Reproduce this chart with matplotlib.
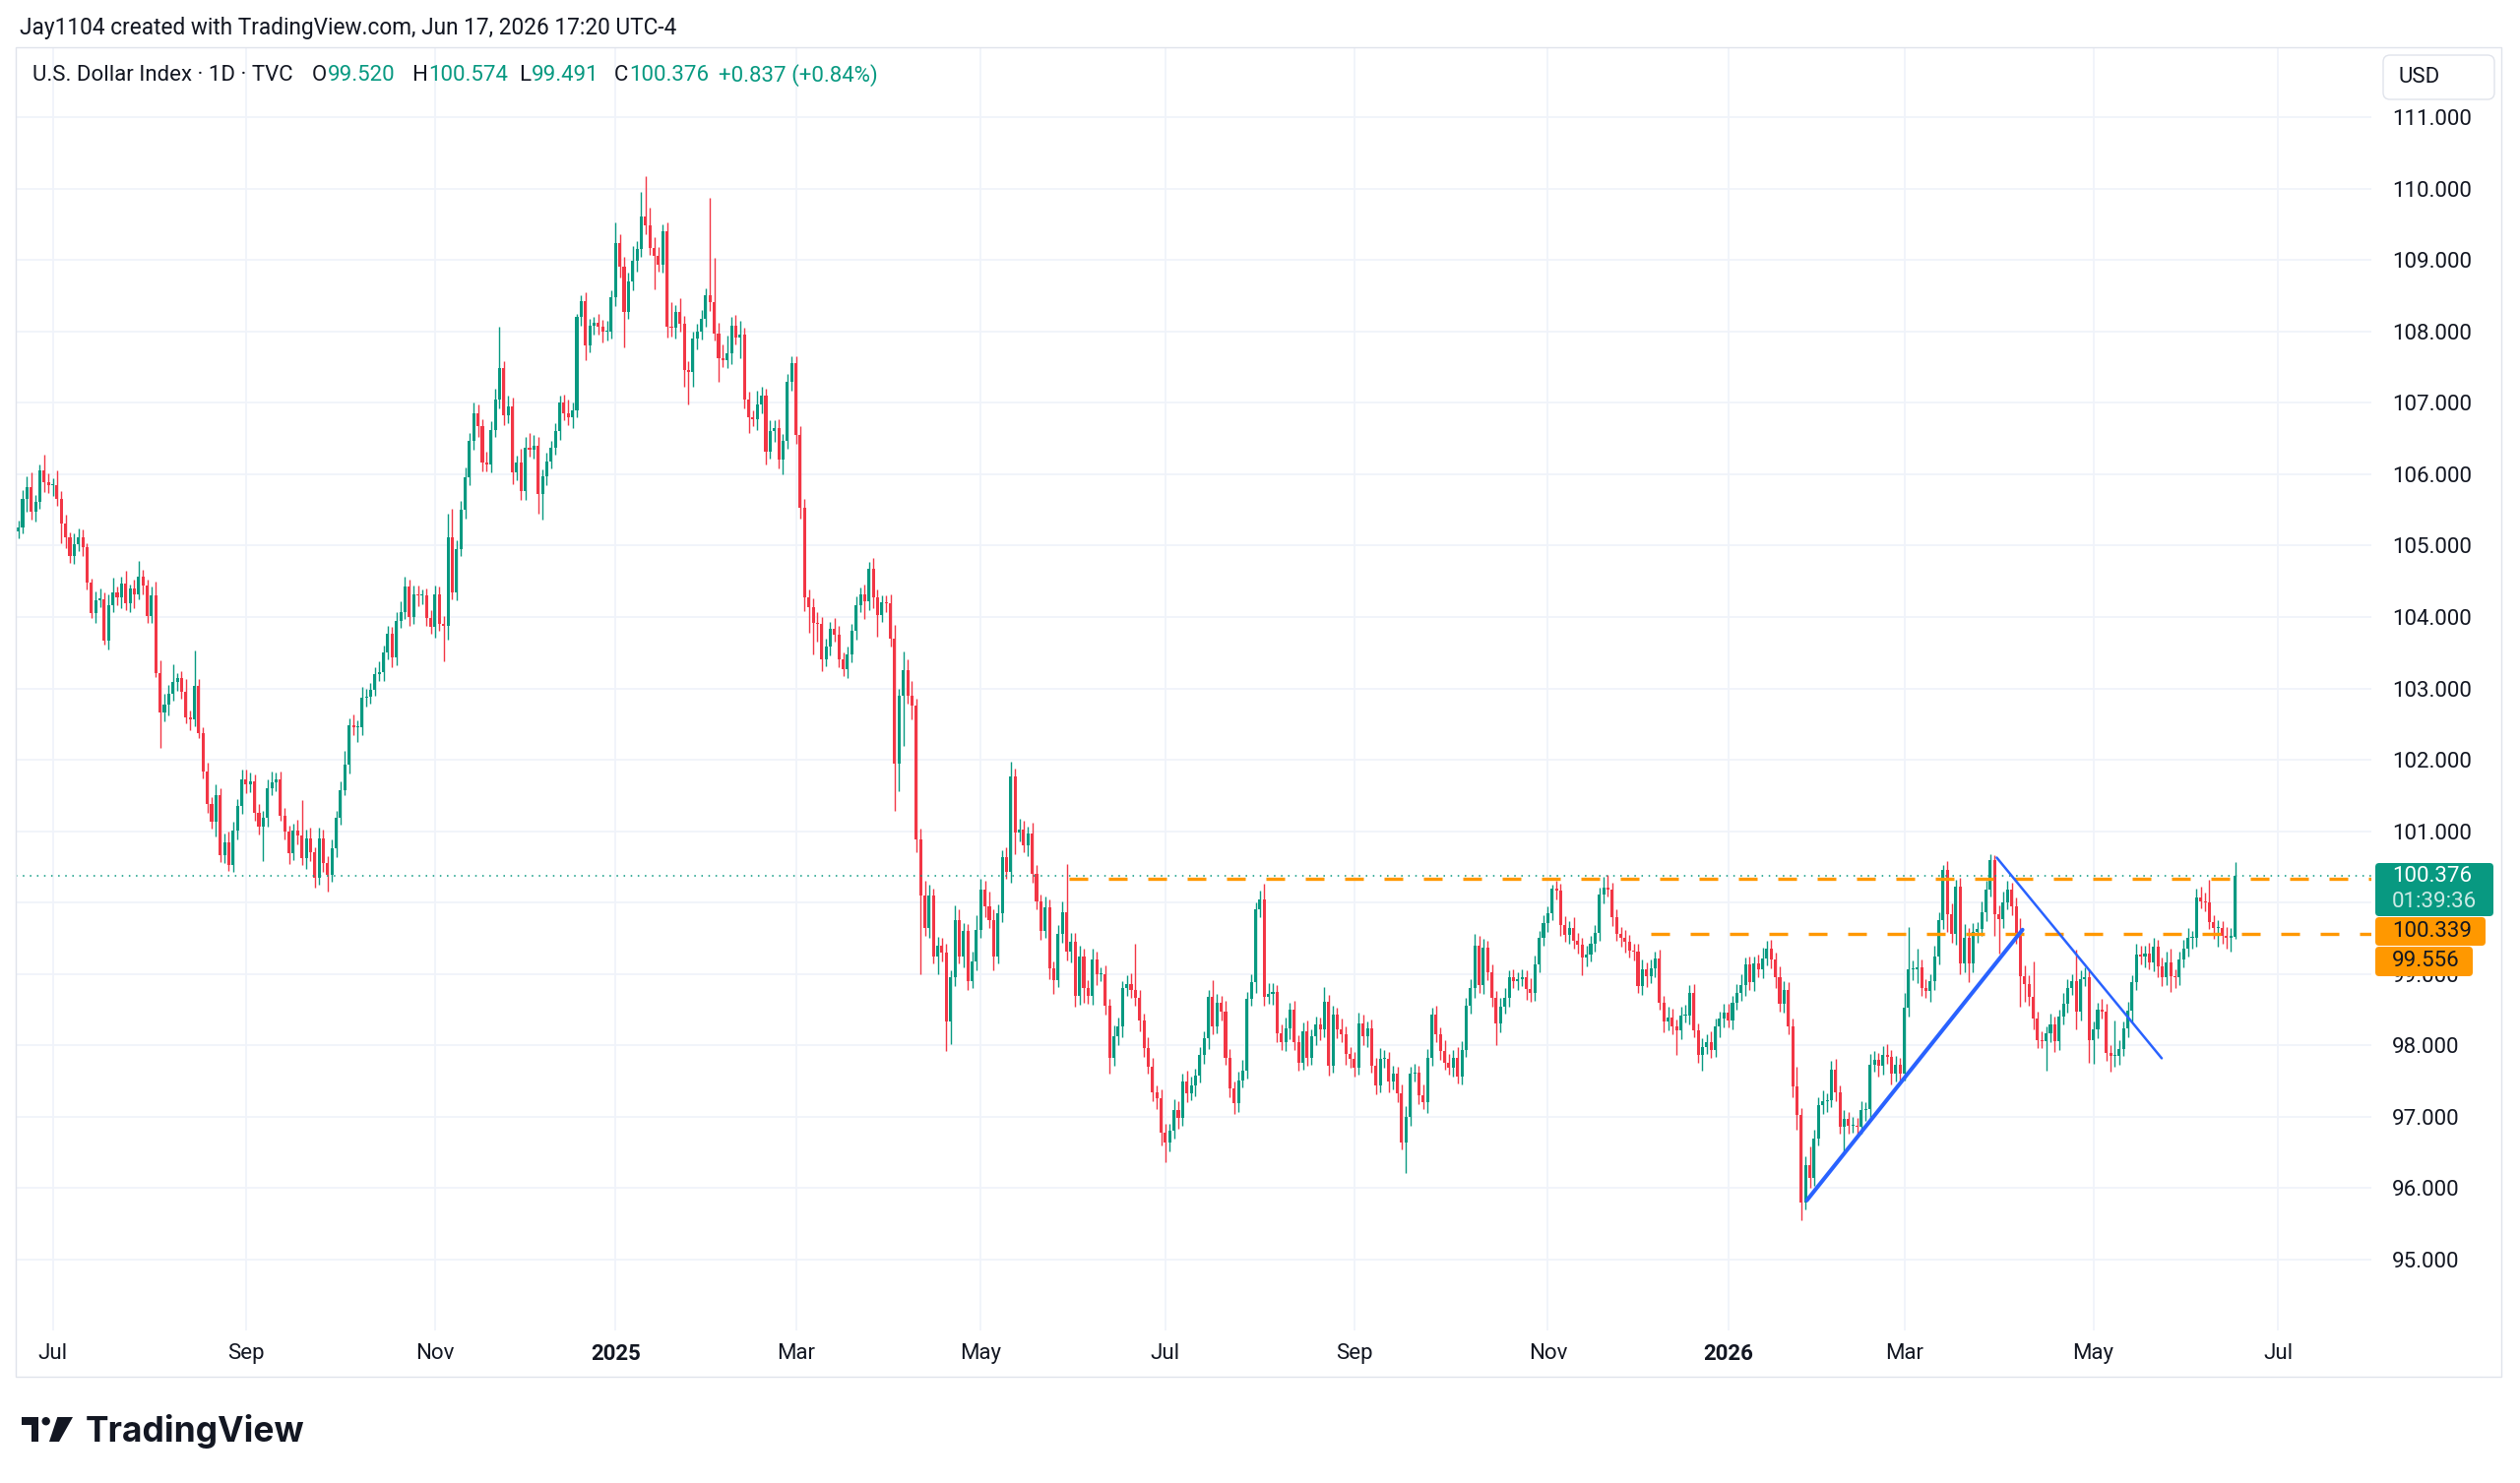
import matplotlib.pyplot as plt
import numpy as np
import pandas as pd
from matplotlib.patches import FancyBboxPatch, Rectangle, Circle, Polygon
from matplotlib.transforms import Affine2D

plt.rcParams['font.family'] = ['Roboto', 'DejaVu Sans']

# ---- データ: チャートから読み取った日足 (2024-06-19 〜 2026-06-17) ----
first_open = 105.20

closes = [
    105.25, 105.66, 105.82, 105.48, 105.61, 106.05, 105.89, 105.84,  # 2024-06
    105.84, 105.66, 105.31, 105.11, 104.86, 105.02, 105.12, 104.98, 104.48, 104.06, 104.24, 104.25,
    103.67, 104.17, 104.35, 104.28, 104.47, 104.19, 104.40, 104.31, 104.56, 104.44, 104.01,  # 2024-07
    104.30, 103.21, 102.66, 102.77, 102.93, 103.09, 103.14, 102.95, 102.59, 102.57, 103.03, 102.38,
    101.84, 101.38, 101.13, 101.50, 100.67, 100.85, 100.53, 101.01, 101.35, 101.72,  # 2024-08
    101.65, 101.70, 101.26, 101.06, 101.19, 101.60, 101.68, 101.72, 101.22, 101.00, 100.69, 101.01,
    100.94, 100.62, 100.90, 100.70, 100.35, 100.90, 100.55, 100.39, 100.76,  # 2024-09
    101.19, 101.58, 101.93, 102.48, 102.45, 102.45, 102.87, 102.88, 102.98, 103.20, 103.23, 103.50,
    103.76, 103.44, 103.95, 104.07, 104.42, 104.00, 104.32, 104.30, 104.30, 103.98, 103.86,  # 2024-10
    104.32, 103.90, 103.88, 105.11, 104.35, 104.95, 105.50, 105.95, 106.46, 106.85, 106.67, 106.16,
    106.14, 106.62, 107.04, 107.48, 106.83, 106.95, 106.02, 106.16, 105.76,  # 2024-11
    106.37, 106.34, 106.40, 105.72, 105.97, 106.18, 106.37, 106.60, 107.00, 106.85, 106.80, 106.90,
    108.20, 108.43, 107.80, 108.08, 108.12, 108.06, 107.99, 108.00, 108.48,  # 2024-12
    109.24, 108.90, 108.27, 108.70, 108.99, 109.15, 109.61, 109.48, 109.17, 109.06, 108.94, 109.40,
    108.06, 108.05, 108.27, 108.10, 107.46, 107.43, 107.90, 107.99, 108.18, 108.50,  # 2025-01
    108.41, 107.97, 107.62, 107.60, 107.69, 108.08, 107.92, 107.95, 107.04, 106.80, 106.77, 106.97,
    107.10, 106.32, 106.60, 106.65, 106.20, 106.46, 107.29, 107.55,  # 2025-02
    106.55, 105.53, 104.28, 104.14, 103.92, 103.90, 103.41, 103.58, 103.83, 103.75, 103.41, 103.27,
    103.47, 103.80, 104.17, 104.31, 104.22, 104.67, 104.28, 104.03, 104.20,  # 2025-03
    104.19, 103.69, 101.95, 102.90, 103.26, 102.90, 102.76, 100.88, 100.10, 99.65, 100.10, 99.25,
    99.40, 99.30, 98.33, 98.95, 99.76, 99.25, 99.60, 98.90, 99.17, 99.62,  # 2025-04
    100.18, 99.95, 99.76, 99.25, 99.85, 100.63, 100.43, 101.76, 100.98, 101.02, 100.80, 100.97,
    100.40, 100.01, 99.60, 99.93, 99.08, 98.92, 99.56, 99.87, 99.31, 99.45,  # 2025-05
    98.69, 99.25, 98.80, 98.69, 99.20, 99.00, 99.00, 98.55, 97.82, 98.13, 98.27, 98.80,
    98.86, 98.78, 98.66, 98.35, 97.96, 97.70, 97.34, 97.26, 96.78,  # 2025-06
    96.64, 96.80, 97.10, 96.98, 97.50, 97.33, 97.44, 97.58, 97.86, 98.10, 98.68, 98.27,
    98.60, 98.47, 97.83, 97.40, 97.19, 97.51, 97.65, 98.65, 98.88, 99.90, 100.05,  # 2025-07
    98.68, 98.72, 98.75, 98.17, 98.04, 98.24, 98.50, 98.04, 97.76, 98.20, 97.83, 98.13,
    98.29, 98.22, 98.61, 97.72, 98.43, 98.22, 98.15, 97.88, 97.81,  # 2025-08
    97.69, 98.31, 98.13, 98.24, 97.72, 97.44, 97.81, 97.81, 97.49, 97.60, 97.33, 96.64,
    97.00, 97.60, 97.62, 97.30, 97.21, 97.83, 98.43, 98.15, 97.92, 97.76,  # 2025-09
    97.69, 97.83, 97.57, 97.94, 98.56, 98.81, 99.39, 98.84, 99.37, 99.02, 98.66, 98.31,
    98.54, 98.66, 98.95, 98.90, 98.93, 98.95, 98.79, 98.73, 99.14, 99.50, 99.71,  # 2025-10
    99.85, 100.19, 100.17, 99.69, 99.55, 99.64, 99.46, 99.41, 99.23, 99.27, 99.43, 99.57,
    100.11, 100.21, 100.18, 99.79, 99.56, 99.50, 99.45, 99.33,  # 2025-11
    99.31, 98.83, 99.06, 98.97, 99.08, 99.22, 98.60, 98.33, 98.39, 98.26, 98.21, 98.42,
    98.42, 98.74, 98.21, 97.87, 97.98, 98.05, 97.94, 98.26, 98.37, 98.46,  # 2025-12
    98.35, 98.60, 98.74, 98.85, 99.13, 98.88, 99.15, 99.06, 99.22, 99.36, 99.20, 98.96,
    98.58, 98.78, 98.26, 97.43, 97.02, 95.80, 96.33, 96.15, 96.70,  # 2026-01
    97.16, 97.22, 97.23, 97.66, 97.34, 96.86, 96.97, 96.88, 96.88, 96.86, 97.10, 97.11,
    97.73, 97.80, 97.71, 97.87, 97.84, 97.61, 97.73, 97.61,  # 2026-02
    98.53, 99.06, 99.07, 99.10, 98.81, 98.76, 98.90, 99.24, 99.75, 100.46, 99.84, 99.56,
    100.23, 99.15, 99.50, 99.15, 99.59, 99.63, 99.86, 100.18, 100.60, 99.84,  # 2026-03
    99.77, 100.00, 100.18, 99.95, 99.57, 98.97, 98.86, 98.68, 98.38, 98.08, 98.06, 98.17,
    98.29, 98.06, 98.40, 98.58, 98.81, 98.90, 98.47, 98.93, 98.95, 98.08,  # 2026-04
    98.22, 98.50, 98.47, 97.90, 97.85, 97.85, 97.95, 98.24, 98.49, 98.88, 99.27, 99.25,
    99.29, 99.16, 99.38, 99.11, 98.95, 99.16, 98.97, 98.95, 99.20,  # 2026-05
    99.36, 99.50, 99.50, 100.07, 100.02, 100.00, 99.73, 99.64, 99.64, 99.54, 99.50, 99.539,
    100.376,  # 2026-06
]

# 上ヒゲ (実体上端から高値まで)
wick_up = [
    0.10, 0.12, 0.15, 0.20, 0.10, 0.08, 0.22, 0.12,
    0.10, 0.21, 0.10, 0.12, 0.08, 0.15, 0.12, 0.10, 0.05, 0.06, 0.12, 0.15, 0.10, 0.15, 0.20, 0.08,
    0.10, 0.18, 0.05, 0.12, 0.23, 0.10, 0.08,
    0.12, 0.20, 0.18, 0.15, 0.12, 0.25, 0.08, 0.10, 0.18, 0.10, 0.50, 0.10, 0.08, 0.12, 0.10, 0.15,
    0.10, 0.12, 0.15, 0.12, 0.10, 0.15,
    0.15, 0.12, 0.10, 0.12, 0.10, 0.12, 0.15, 0.10, 0.12, 0.10, 0.08, 0.10, 0.15, 0.50, 0.12, 0.15,
    0.08, 0.15, 0.12, 0.10, 0.12,
    0.10, 0.12, 0.20, 0.10, 0.15, 0.10, 0.15, 0.12, 0.10, 0.10, 0.15, 0.10, 0.12, 0.10, 0.12, 0.15,
    0.15, 0.10, 0.12, 0.12, 0.08, 0.10, 0.12,
    0.12, 0.10, 0.12, 0.33, 0.40, 0.12, 0.12, 0.15, 0.12, 0.15, 0.12, 0.10, 0.15, 0.12, 0.15, 0.58,
    0.10, 0.15, 0.12, 0.10, 0.20,
    0.15, 0.20, 0.15, 0.12, 0.10, 0.12, 0.10, 0.12, 0.10, 0.12, 0.20, 0.10, 0.05, 0.08, 0.12, 0.10,
    0.08, 0.12, 0.10, 0.15, 0.10,
    0.28, 0.12, 0.15, 0.12, 0.20, 0.12, 0.34, 0.56, 0.25, 0.15, 0.12, 0.10, 0.12, 0.35, 0.10, 0.20,
    0.12, 0.12, 0.10, 0.12, 0.12, 0.10,
    1.37, 0.62, 0.15, 0.20, 0.25, 0.12, 0.15, 0.20, 0.10, 0.12, 0.10, 0.20, 0.12, 0.10, 0.15, 0.10,
    0.12, 0.10, 0.12, 0.10,
    0.10, 0.12, 0.12, 0.10, 0.12, 0.15, 0.10, 0.12, 0.10, 0.15, 0.12, 0.10, 0.12, 0.10, 0.12, 0.10,
    0.15, 0.10, 0.15, 0.10, 0.10,
    0.10, 0.12, 0.20, 0.10, 0.26, 0.15, 0.20, 0.10, 0.15, 0.20, 0.15, 0.10, 0.12, 0.10, 0.12, 0.10,
    0.20, 0.15, 0.12, 0.10, 0.15, 0.20,
    0.15, 0.12, 0.20, 0.15, 0.12, 0.10, 0.15, 0.22, 0.12, 0.15, 0.12, 0.10, 0.15, 0.12, 0.10, 0.15,
    0.12, 0.10, 0.12, 0.15, 0.67, 0.12,
    0.12, 0.15, 0.10, 0.12, 0.15, 0.12, 0.10, 0.12, 0.10, 0.15, 0.12, 0.10, 0.12, 0.15, 0.64, 0.12,
    0.10, 0.15, 0.12, 0.10, 0.12,
    0.12, 0.10, 0.15, 0.12, 0.10, 0.15, 0.12, 0.10, 0.12, 0.10, 0.10, 0.23, 0.12, 0.10, 0.15, 0.12,
    0.10, 0.12, 0.15, 0.10, 0.12, 0.10, 0.12,
    0.21, 0.15, 0.12, 0.10, 0.12, 0.15, 0.10, 0.12, 0.10, 0.12, 0.15, 0.10, 0.12, 0.10, 0.21, 0.10,
    0.12, 0.10, 0.15, 0.12, 0.10,
    0.10, 0.15, 0.12, 0.10, 0.12, 0.10, 0.15, 0.12, 0.10, 0.12, 0.10, 0.12, 0.15, 0.10, 0.12, 0.10,
    0.15, 0.12, 0.10, 0.12, 0.10, 0.15,
    0.12, 0.10, 0.15, 0.12, 0.10, 0.12, 0.17, 0.15, 0.12, 0.10, 0.12, 0.10, 0.12, 0.15, 0.10, 0.12,
    0.10, 0.12, 0.10, 0.15, 0.12, 0.10, 0.12,
    0.10, 0.06, 0.12, 0.10, 0.12, 0.10, 0.15, 0.12, 0.10, 0.12, 0.10, 0.12, 0.10, 0.15, 0.18, 0.10,
    0.12, 0.10, 0.12, 0.10,
    0.10, 0.12, 0.15, 0.10, 0.12, 0.10, 0.12, 0.10, 0.15, 0.12, 0.10, 0.12, 0.15, 0.10, 0.12, 0.10,
    0.12, 0.10, 0.15, 0.12, 0.10, 0.12,
    0.12, 0.10, 0.12, 0.15, 0.10, 0.12, 0.10, 0.12, 0.15, 0.10, 0.12, 0.10, 0.15, 0.12, 0.10, 0.12,
    0.27, 0.10, 0.12, 0.25, 0.12,
    0.12, 0.15, 0.10, 0.12, 0.15, 0.10, 0.12, 0.10, 0.12, 0.10, 0.12, 0.10, 0.15, 0.12, 0.10, 0.12,
    0.15, 0.10, 0.12, 0.10,
    0.20, 0.60, 0.12, 0.25, 0.10, 0.12, 0.10, 0.15, 0.12, 0.07, 0.12, 0.15, 0.09, 0.12, 0.20, 0.15,
    0.12, 0.10, 0.15, 0.12, 0.08, 0.06,
    0.12, 0.15, 0.12, 0.10, 0.12, 0.21, 0.15, 0.12, 0.50, 0.10, 0.12, 0.10, 0.15, 0.12, 0.10, 0.15,
    0.12, 0.10, 0.44, 0.12, 0.15, 0.12,
    0.12, 0.10, 0.15, 0.12, 0.10, 0.50, 0.12, 0.10, 0.12, 0.10, 0.15, 0.12, 0.10, 0.15, 0.12, 0.10,
    0.12, 0.15, 0.20, 0.10, 0.12,
    0.12, 0.15, 0.10, 0.13, 0.16, 0.12, 0.32, 0.10, 0.12, 0.10, 0.12, 0.10, 0.198,
]

# 下ヒゲ (実体下端から安値まで)
wick_down = [
    0.10, 0.08, 0.18, 0.12, 0.15, 0.10, 0.14, 0.10,
    0.15, 0.10, 0.28, 0.15, 0.10, 0.12, 0.10, 0.12, 0.10, 0.08, 0.15, 0.10, 0.05, 0.12, 0.10, 0.12,
    0.15, 0.10, 0.12, 0.18, 0.06, 0.12, 0.10,
    0.10, 0.05, 0.50, 0.12, 0.15, 0.10, 0.12, 0.10, 0.08, 0.15, 0.10, 0.08, 0.10, 0.12, 0.10, 0.20,
    0.10, 0.12, 0.08, 0.10, 0.12, 0.10,
    0.12, 0.10, 0.12, 0.10, 0.48, 0.12, 0.10, 0.12, 0.08, 0.12, 0.15, 0.10, 0.12, 0.10, 0.15, 0.12,
    0.14, 0.10, 0.12, 0.23, 0.10,
    0.12, 0.10, 0.08, 0.12, 0.10, 0.20, 0.10, 0.12, 0.10, 0.08, 0.10, 0.12, 0.10, 0.15, 0.12, 0.10,
    0.10, 0.12, 0.10, 0.15, 0.12, 0.10, 0.10,
    0.15, 0.10, 0.50, 0.20, 0.10, 0.12, 0.10, 0.12, 0.10, 0.12, 0.15, 0.12, 0.10, 0.12, 0.10, 0.12,
    0.15, 0.12, 0.16, 0.10, 0.12,
    0.12, 0.10, 0.12, 0.28, 0.35, 0.12, 0.10, 0.10, 0.12, 0.10, 0.12, 0.15, 0.10, 0.12, 0.20, 0.10,
    0.12, 0.10, 0.15, 0.12, 0.10,
    0.12, 0.15, 0.50, 0.10, 0.12, 0.15, 0.10, 0.12, 0.10, 0.47, 0.10, 0.12, 0.14, 0.12, 0.15, 0.10,
    0.24, 0.46, 0.20, 0.15, 0.10, 0.12,
    0.12, 0.10, 0.32, 0.10, 0.12, 0.15, 0.10, 0.30, 0.12, 0.23, 0.10, 0.15, 0.12, 0.19, 0.10, 0.15,
    0.12, 0.20, 0.10, 0.12,
    0.12, 0.15, 0.20, 0.36, 0.45, 0.25, 0.17, 0.10, 0.12, 0.10, 0.12, 0.10, 0.12, 0.10, 0.12, 0.10,
    0.25, 0.12, 0.15, 0.30, 0.10,
    0.12, 0.10, 0.67, 0.39, 0.70, 0.12, 0.20, 0.17, 1.10, 0.12, 0.15, 0.10, 0.25, 0.12, 0.41, 0.31,
    0.12, 0.10, 0.15, 0.12, 0.10, 0.12,
    0.12, 0.15, 0.12, 0.20, 0.10, 0.12, 0.10, 0.15, 0.30, 0.12, 0.10, 0.15, 0.12, 0.10, 0.12, 0.10,
    0.15, 0.20, 0.10, 0.12, 0.12, 0.15,
    0.15, 0.12, 0.20, 0.10, 0.12, 0.15, 0.10, 0.12, 0.22, 0.10, 0.12, 0.15, 0.10, 0.12, 0.10, 0.15,
    0.12, 0.10, 0.12, 0.15, 0.18,
    0.27, 0.12, 0.10, 0.15, 0.10, 0.12, 0.10, 0.15, 0.10, 0.12, 0.15, 0.12, 0.10, 0.12, 0.10, 0.12,
    0.15, 0.12, 0.10, 0.12, 0.10, 0.15, 0.10,
    0.12, 0.10, 0.15, 0.12, 0.10, 0.12, 0.15, 0.10, 0.12, 0.10, 0.12, 0.10, 0.12, 0.15, 0.10, 0.14,
    0.10, 0.12, 0.10, 0.15, 0.12,
    0.12, 0.10, 0.12, 0.15, 0.10, 0.12, 0.10, 0.12, 0.15, 0.10, 0.12, 0.10, 0.43, 0.12, 0.10, 0.12,
    0.10, 0.15, 0.12, 0.10, 0.12, 0.10,
    0.10, 0.12, 0.10, 0.12, 0.10, 0.12, 0.15, 0.10, 0.12, 0.10, 0.12, 0.30, 0.12, 0.10, 0.12, 0.10,
    0.12, 0.10, 0.15, 0.12, 0.10, 0.12, 0.10,
    0.12, 0.10, 0.12, 0.15, 0.10, 0.12, 0.10, 0.12, 0.25, 0.12, 0.10, 0.12, 0.10, 0.12, 0.10, 0.12,
    0.10, 0.12, 0.15, 0.10,
    0.12, 0.10, 0.12, 0.15, 0.10, 0.12, 0.10, 0.15, 0.12, 0.10, 0.34, 0.12, 0.10, 0.12, 0.10, 0.12,
    0.23, 0.10, 0.12, 0.10, 0.15, 0.12,
    0.10, 0.12, 0.10, 0.12, 0.15, 0.10, 0.12, 0.10, 0.12, 0.10, 0.12, 0.15, 0.10, 0.12, 0.10, 0.15,
    0.20, 0.25, 0.10, 0.15, 0.12,
    0.10, 0.12, 0.15, 0.10, 0.12, 0.10, 0.35, 0.12, 0.10, 0.12, 0.10, 0.15, 0.12, 0.10, 0.15, 0.12,
    0.10, 0.15, 0.12, 0.10,
    0.10, 0.12, 0.15, 0.20, 0.12, 0.10, 0.15, 0.12, 0.10, 0.12, 0.25, 0.12, 0.15, 0.16, 0.12, 0.27,
    0.12, 0.15, 0.10, 0.12, 0.10, 0.30,
    0.48, 0.12, 0.10, 0.12, 0.15, 0.43, 0.25, 0.12, 0.15, 0.12, 0.10, 0.41, 0.12, 0.15, 0.12, 0.10,
    0.12, 0.10, 0.25, 0.12, 0.10, 0.32,
    0.34, 0.12, 0.10, 0.12, 0.22, 0.15, 0.12, 0.10, 0.12, 0.15, 0.10, 0.12, 0.15, 0.10, 0.12, 0.15,
    0.12, 0.10, 0.22, 0.15, 0.10,
    0.10, 0.12, 0.15, 0.12, 0.10, 0.12, 0.10, 0.15, 0.26, 0.12, 0.15, 0.18, 0.029,
]

# 最終足 (凡例の値)
last_open, last_high, last_low, last_close = 99.520, 100.574, 99.491, 100.376

# 水平線・トレンドライン (描画ツール)
resist_levels = [100.339, 99.556]
resist_start_bar = [244.5, 380.0]
trend_up = ([416.3, 466.5], [95.83, 99.62])
trend_down = ([460.5, 498.9], [100.63, 97.82])

header = 'Jay1104 created with TradingView.com, Jun 17, 2026 17:20 UTC-4'
symbol_title = 'U.S. Dollar Index · 1D · TVC'
countdown = '01:39:36'

GREEN = '#089981'
RED = '#F23645'
ORANGE = '#FF9800'
BLUE = '#2962FF'
TEXT = '#131722'
GRID = '#f0f3fa'
BORDER = '#e0e3eb'

closes = np.array(closes)
assert len(closes) == len(wick_up) == len(wick_down) == 517
opens = np.r_[first_open, closes[:-1]]
opens[-1] = last_open
highs = np.maximum(opens, closes) + np.array(wick_up)
lows = np.minimum(opens, closes) - np.array(wick_down)
highs[-1], lows[-1] = last_high, last_low

# 営業日 (クリスマス・元日を除く)
days = pd.bdate_range('2024-06-19', '2026-07-31')
days = days[~(((days.month == 12) & (days.day == 25)) | ((days.month == 1) & (days.day == 1)))]
ym = days.year * 100 + days.month
starts = np.r_[0, np.nonzero(np.diff(ym))[0] + 1]
tick_idx = [i for i in starts if days[i].month % 2 == 1]
tick_lab = [str(days[i].year) if days[i].month == 1 else days[i].strftime('%b') for i in tick_idx]

# ---- 図 ----
W, H = 2560, 1507
fig = plt.figure(figsize=(W / 100, H / 100), dpi=100)
pix = Affine2D().scale(1 / W, -1 / H).translate(0, 1) + fig.transFigure

ax = fig.add_axes([16 / W, 1 - 1352 / H, (2409 - 16) / W, (1352 - 49) / H])

x = np.arange(len(closes))
col = np.where(closes >= opens, GREEN, RED)
ax.vlines(x, lows, highs, colors=col, linewidth=1.0, zorder=3)
ax.bar(x, np.maximum(np.abs(closes - opens), 0.015), bottom=np.minimum(opens, closes),
       width=0.7, color=col, linewidth=0, zorder=4)

xmin, xmax = -0.6, 547.7
ax.set_xlim(xmin, xmax)
ax.set_ylim(94.008, 111.965)

# 100.000 は現在値ラベルの下に隠れる
yt = np.arange(95, 112)
ax.set_yticks(yt)
ax.set_yticklabels(['' if v == 100 else f'{v:.3f}' for v in yt])
ax.set_xticks(tick_idx)
ax.set_xticklabels(tick_lab)
for lab, i in zip(ax.get_xticklabels(), tick_idx):
    if days[i].month == 1:
        lab.set_fontweight('bold')

ax.yaxis.tick_right()
ax.tick_params(axis='y', length=0, pad=15, labelsize=16, labelcolor=TEXT)
ax.tick_params(axis='x', length=0, pad=9.5, labelsize=16, labelcolor=TEXT)
ax.grid(True, color=GRID, linewidth=1.3)
ax.set_axisbelow(True)
for s in ax.spines.values():
    s.set_visible(False)

# 現在値ライン
ax.axhline(last_close, color=GREEN, linewidth=1.1, linestyle=(0, (1, 3.7)), zorder=5)
# 水平線
for lvl, x0 in zip(resist_levels, resist_start_bar):
    ax.plot([x0, xmax], [lvl, lvl], color=ORANGE, linewidth=2.4,
            linestyle=(0, (5.7, 6.3)), solid_capstyle='butt', zorder=5)
# トレンドライン
ax.plot(*trend_up, color=BLUE, linewidth=2.9, solid_capstyle='round', zorder=6)
ax.plot(*trend_down, color=BLUE, linewidth=1.8, solid_capstyle='round', zorder=6)

# パネル枠
fig.add_artist(Rectangle((16, 48), 2541 - 16, 1399 - 48, transform=pix, fill=False,
                         edgecolor=BORDER, linewidth=1.0))

# 価格ラベル
def price_box(x1, y0, y1, color, lines, text_color):
    fig.add_artist(FancyBboxPatch((2413, y0), x1 - 2413, y1 - y0, boxstyle='round,pad=0,rounding_size=4',
                                  transform=pix, facecolor=color, edgecolor='none', zorder=10))
    for (s, yy, a) in lines:
        fig.text(2430, yy, s, transform=pix, color=text_color, alpha=a, fontsize=16,
                 va='center', ha='left', zorder=11)

price_box(2533, 877, 931, GREEN, [(f'{last_close:.3f}', 891, 1.0), (countdown, 917, 0.8)], 'white')
price_box(2525, 932, 961, ORANGE, [(f'{resist_levels[0]:.3f}', 946, 1.0)], TEXT)
price_box(2512, 962, 992, ORANGE, [(f'{resist_levels[1]:.3f}', 977, 1.0)], TEXT)

# 通貨ボタン
fig.add_artist(FancyBboxPatch((2421, 56), 113, 45, boxstyle='round,pad=0,rounding_size=7',
                              transform=pix, facecolor='white', edgecolor=BORDER, linewidth=1.0))
fig.text(2437, 79, 'USD', transform=pix, fontsize=16, color=TEXT, va='center', ha='left')

# ヘッダー
fig.text(20, 28, header, transform=pix, fontsize=16.3, color=TEXT, va='center', ha='left')

# 凡例 (OHLC)
prev_close = closes[-2]
chg = last_close - prev_close
renderer = fig.canvas.get_renderer()
fig.text(33, 77, symbol_title, transform=pix, fontsize=16, color=TEXT, va='center')
for xx, letter, val in [(317, 'O', last_open), (418, 'H', last_high),
                        (527, 'L', last_low), (624, 'C', last_close)]:
    t = fig.text(xx, 77, letter, transform=pix, fontsize=16, color=TEXT, va='center')
    x1 = t.get_window_extent(renderer).x1
    fig.text(x1 + 1, 77, f'{val:.3f}', transform=pix, fontsize=16, color=GREEN, va='center')
fig.text(730, 77, f'{chg:+.3f} ({chg / prev_close * 100:+.2f}%)', transform=pix,
         fontsize=16, color=GREEN, va='center')

# ロゴ
fig.add_artist(Rectangle((21.7, 1440), 17.6, 8.3, transform=pix, color=TEXT, linewidth=0))
fig.add_artist(Rectangle((31.7, 1440), 7.6, 25, transform=pix, color=TEXT, linewidth=0))
fig.add_artist(Circle((46.7, 1444.2), 4.2, transform=pix, color=TEXT, linewidth=0))
fig.add_artist(Polygon([(58.3, 1440), (74, 1440), (60, 1465), (50, 1465)], closed=True,
                       transform=pix, color=TEXT, linewidth=0))
fig.text(87, 1465, 'TradingView', transform=pix, fontsize=25.5, fontweight='bold',
         family=['Inter', 'DejaVu Sans'], color=TEXT, va='baseline', ha='left')

fig.savefig('out.png', dpi=100, facecolor='white')
